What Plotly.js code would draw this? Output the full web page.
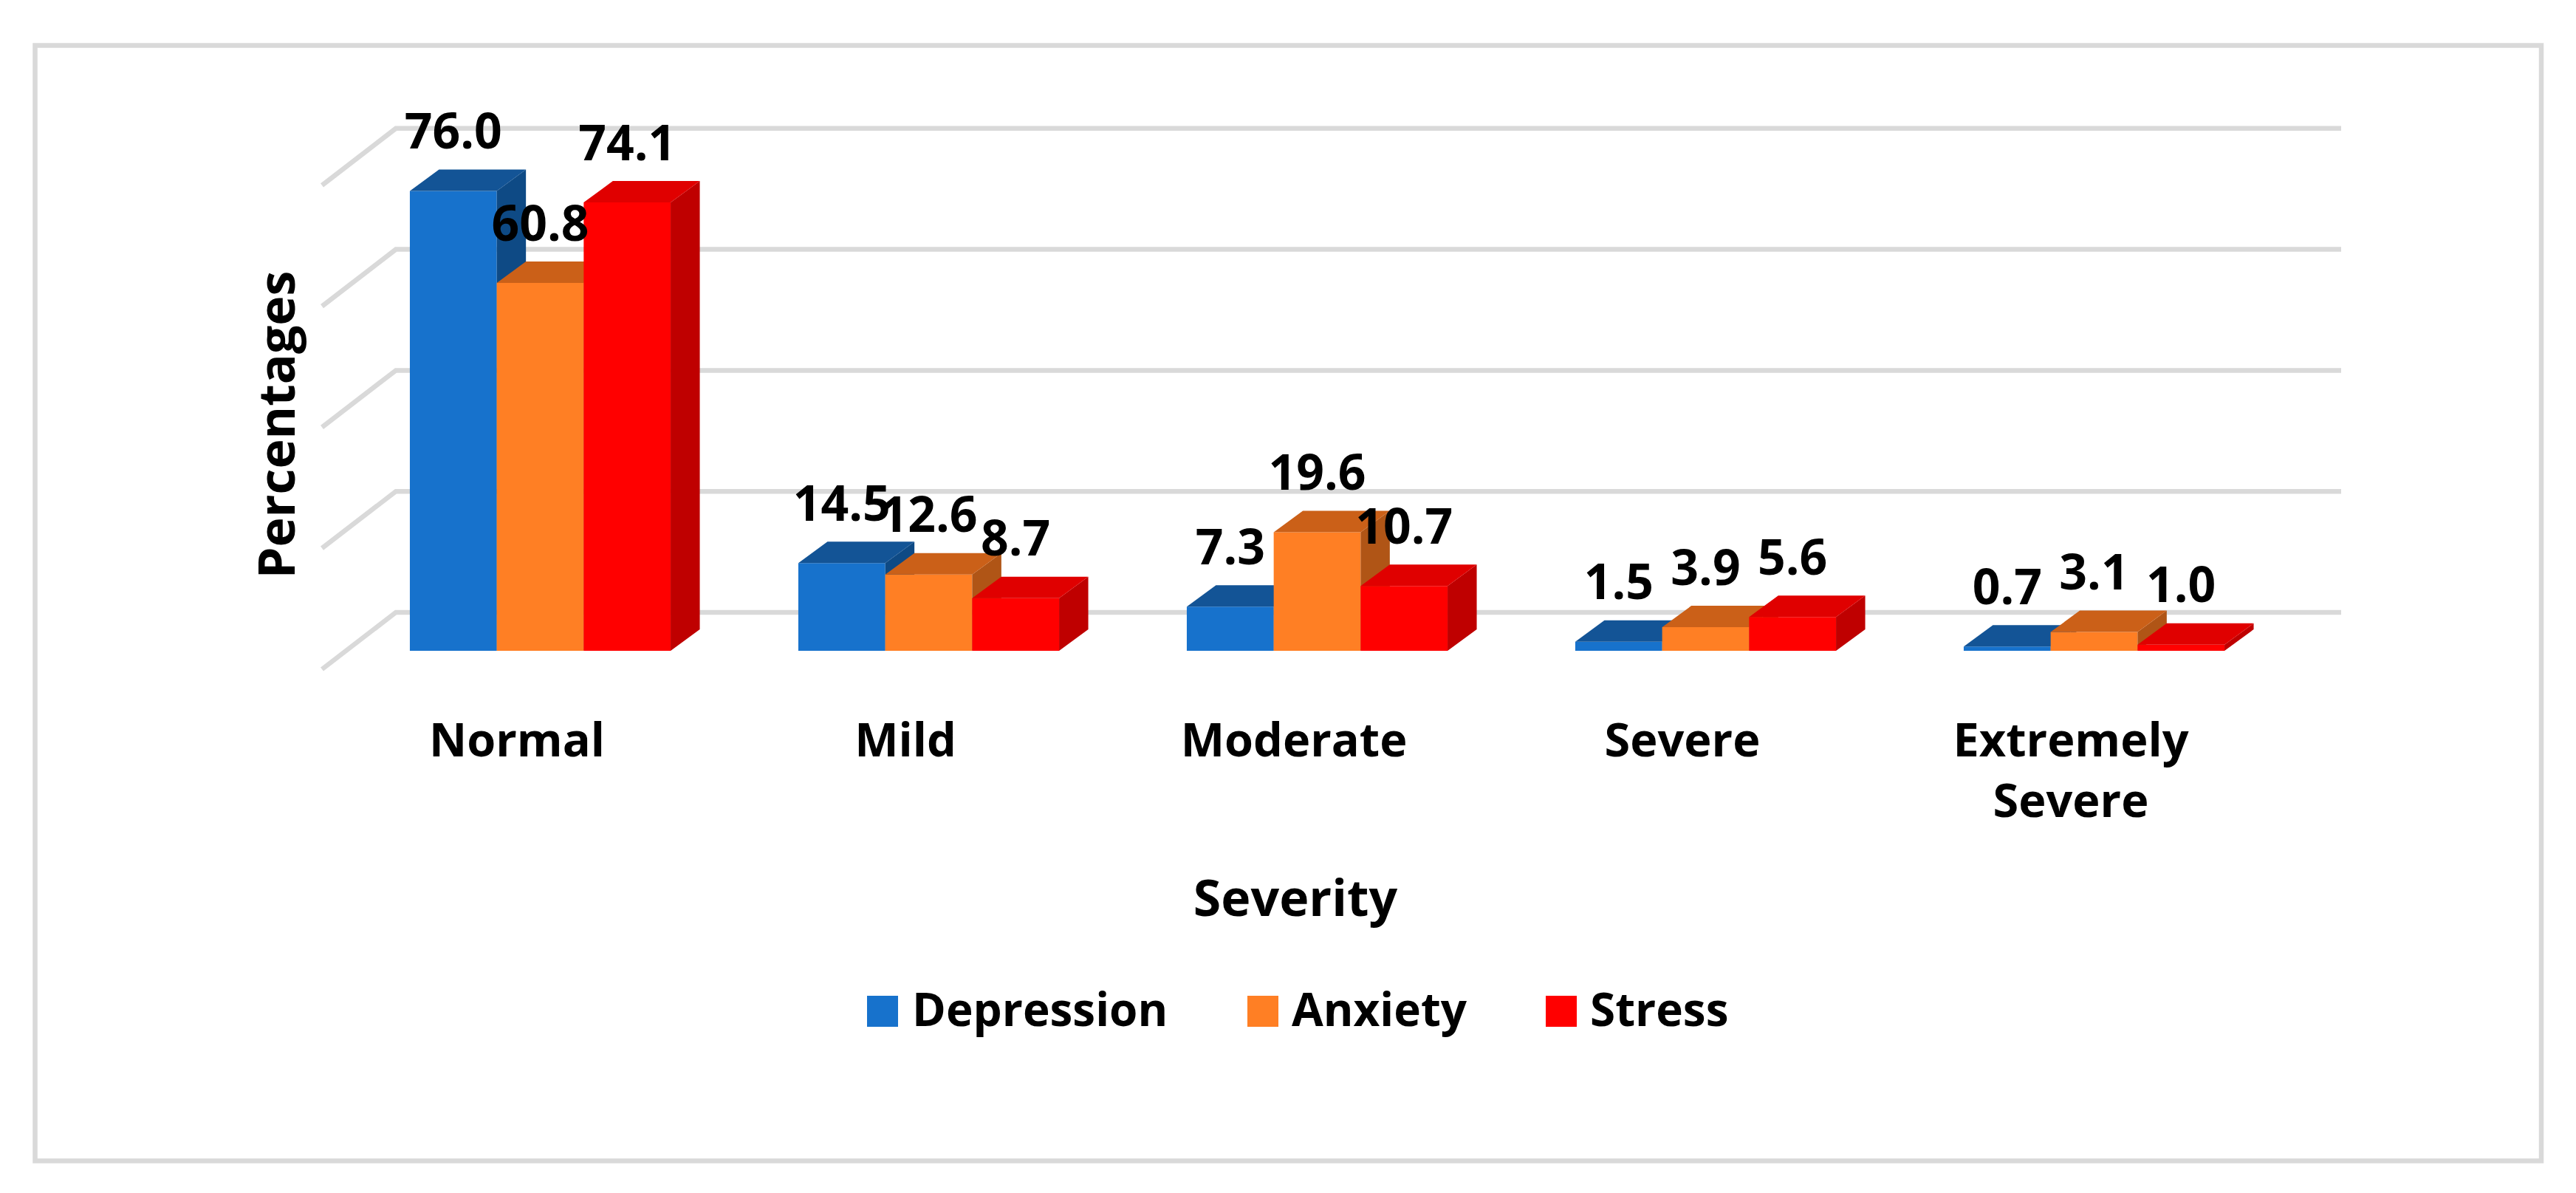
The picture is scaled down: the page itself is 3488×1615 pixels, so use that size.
<!DOCTYPE html>
<html><head><meta charset="utf-8">
<script src="https://cdn.plot.ly/plotly-3.0.1.min.js"></script>
<style>html,body{margin:0;padding:0;background:#fff}</style></head>
<body><div id="chart" style="width:3488px;height:1615px"></div>
<script>
const categories = ["Normal", "Mild", "Moderate", "Severe", "Extremely<br>Severe"];
const seriesNames = ["Depression", "Anxiety", "Stress"];
const depression = [76.0, 14.5, 7.3, 1.5, 0.7];
const anxiety = [60.8, 12.6, 19.6, 3.9, 3.1];
const stress = [74.1, 8.7, 10.7, 5.6, 1.0];
const gridValues = [0, 20, 40, 60, 80];
const frontColors = ["#1772CC", "#FF7F24", "#FF0000"];
const topColors = ["#135496", "#CB6018", "#E00000"];
const sideColors = ["#0E4A85", "#B05516", "#BF0000"];

const W = 3488, H = 1615, FONT = "'Open Sans', sans-serif";
const pxCat = 526, pxVal = 8.19;
const tick0 = 700, base0 = 881;
const domL = 336, domR = 3172, domT = 60, domB = 1090;
const toX = p => (p - tick0) / pxCat;
const toY = p => (base0 - p) / pxVal;
const fx = p => p / W, fy = p => 1 - p / H;

const barW = 117.7 / pxCat, groupShift = 31.5 / pxCat;
const depthX = 39.5 / pxCat, depthY = 29 / pxVal;
const floorFrontY = toY(906), wallY = toY(829);
const floorFrontX = toX(436), wallX = toX(536), wallEndX = toX(3170);
const labelLift = 74 / pxVal;

const allSeries = [depression, anxiety, stress];
const traces = [];

gridValues.forEach(g => traces.push({
  type: "scatter", mode: "lines", xaxis: "x", yaxis: "y", cliponaxis: false, showlegend: false, hoverinfo: "skip",
  x: [floorFrontX, wallX, wallEndX],
  y: [g + floorFrontY, g + wallY, g + wallY],
  line: {color: "#D9D9D9", width: 6.5, simplify: false}
}));

const barCentre = (i, s) => i + groupShift + (s - 1) * barW;

allSeries.forEach((vals, s) => {
  const ax = {xaxis: "x" + (s + 2), yaxis: "y" + (s + 2)};
  const xs = categories.map((_, i) => barCentre(i, s));
  traces.push(Object.assign({
    type: "bar", name: seriesNames[s], x: xs, y: vals, width: barW, cliponaxis: false,
    marker: {color: frontColors[s], line: {width: 0}}, hovertemplate: "%{y}<extra>" + seriesNames[s] + "</extra>"
  }, ax));
  const sideX = [], sideY = [], topX = [], topY = [];
  vals.forEach((v, i) => {
    const l = xs[i] - barW / 2, r = xs[i] + barW / 2;
    sideX.push(r, r + depthX, r + depthX, r, r, null);
    sideY.push(0, depthY, v + depthY, v, 0, null);
    topX.push(l, l + depthX, r + depthX, r, l, null);
    topY.push(v, v + depthY, v + depthY, v, v, null);
  });
  [[sideX, sideY, sideColors[s]], [topX, topY, topColors[s]]].forEach(([px, py, c]) => traces.push(Object.assign({
    type: "scatter", mode: "lines", fill: "toself", fillcolor: c, line: {width: 0, color: c},
    x: px, y: py, cliponaxis: false, showlegend: false, hoverinfo: "skip"
  }, ax)));
});

const labelX = [], labelY = [], labelT = [];
allSeries.forEach((vals, s) => vals.forEach((v, i) => {
  labelX.push(barCentre(i, s)); labelY.push(v + labelLift); labelT.push(v.toFixed(1));
}));
traces.push({
  type: "scatter", mode: "text", xaxis: "x4", yaxis: "y4", x: labelX, y: labelY, text: labelT, cliponaxis: false,
  textposition: "middle center", textfont: {family: FONT, size: 66, color: "#000", weight: 700},
  showlegend: false, hoverinfo: "skip"
});

const xRange = [toX(domL), toX(domR)], yRange = [toY(domB), toY(domT)];
const hiddenX = {overlaying: "x", range: xRange, visible: false, fixedrange: true};
const hiddenY = {overlaying: "y", range: yRange, visible: false, fixedrange: true};

const legendSwatchX = [1174, 1689, 2093];
const legendTextX = [1234, 1748, 2152];
const shapes = [{
  type: "rect", xref: "paper", yref: "paper", x0: fx(47.5), x1: fx(3441), y0: fy(61.5), y1: fy(1571.5),
  line: {color: "#D9D9D9", width: 6.5}, fillcolor: "rgba(0,0,0,0)", layer: "below"
}];
const annotations = [];
seriesNames.forEach((n, s) => {
  shapes.push({
    type: "rect", xref: "paper", yref: "paper", x0: fx(legendSwatchX[s]), x1: fx(legendSwatchX[s] + 42),
    y0: fy(1390), y1: fy(1348), fillcolor: frontColors[s], line: {width: 0}
  });
  annotations.push({
    xref: "paper", yref: "paper", x: fx(legendTextX[s]), y: fy(1365), xanchor: "left", yanchor: "middle",
    text: n, showarrow: false, borderpad: 0, font: {family: FONT, size: 62, color: "#000", weight: 700}
  });
});

const layout = {
  width: W, height: H, margin: {l: 0, r: 0, t: 0, b: 0}, paper_bgcolor: "#fff", plot_bgcolor: "rgba(0,0,0,0)",
  showlegend: false, shapes, annotations, barmode: "overlay", hovermode: "closest",
  xaxis: {
    domain: [fx(domL), fx(domR)], range: xRange, anchor: "free", position: fy(910), fixedrange: true,
    tickmode: "array", tickvals: categories.map((_, i) => i), ticktext: categories,
    showgrid: false, zeroline: false, showline: false, ticks: "", ticklabelstandoff: 50,
    tickfont: {family: FONT, size: 63, color: "#000", weight: 700},
    title: {text: "Severity", standoff: 69, font: {family: FONT, size: 68, color: "#000", weight: 700}}
  },
  yaxis: {
    domain: [fy(domB), fy(domT)], range: yRange, anchor: "free", position: fx(431), fixedrange: true,
    showgrid: false, zeroline: false, showline: false, ticks: "", showticklabels: false,
    title: {text: "Percentages", standoff: 8, font: {family: FONT, size: 68, color: "#000", weight: 700}}
  }
};
["2", "3", "4"].forEach(k => {
  layout["xaxis" + k] = Object.assign({}, hiddenX, {anchor: "y" + k});
  layout["yaxis" + k] = Object.assign({}, hiddenY, {anchor: "x" + k});
});

Plotly.newPlot("chart", traces, layout, {displayModeBar: false, responsive: false});
</script></body></html>
